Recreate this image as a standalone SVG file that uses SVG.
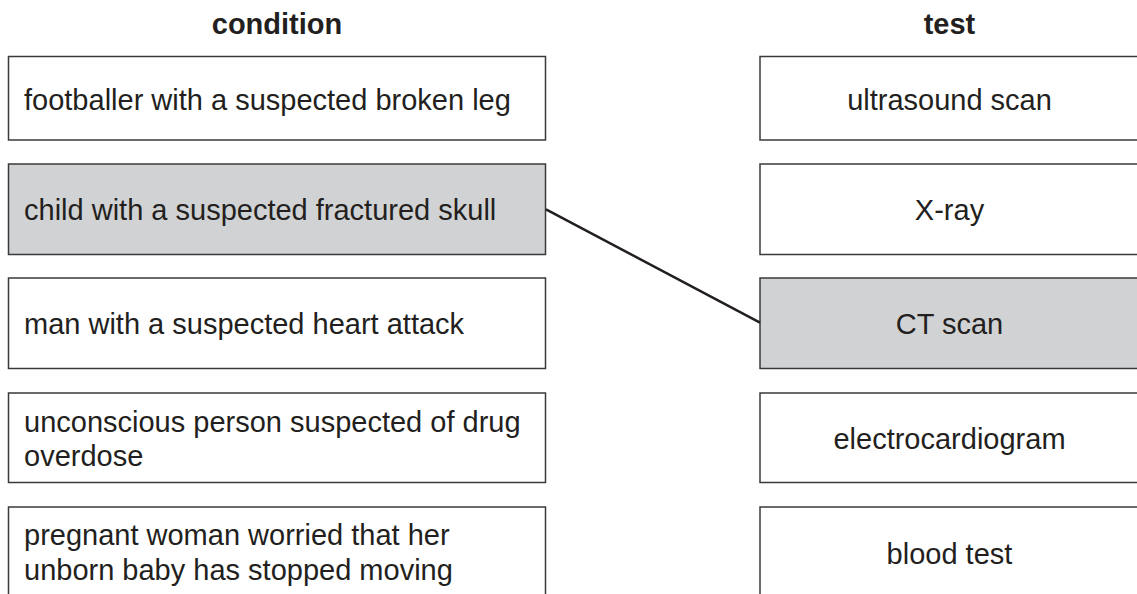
<svg xmlns="http://www.w3.org/2000/svg" width="1137" height="594" viewBox="0 0 1137 594">
<style>
.box{fill:#ffffff;stroke:#3a3a3a;stroke-width:1.5}
.hl{fill:#d1d2d4}
.t{font-family:"Liberation Sans",Arial,sans-serif;font-size:29px;fill:#231f20}
.c{text-anchor:middle}
.h{font-family:"Liberation Sans",Arial,sans-serif;font-size:29px;font-weight:bold;fill:#231f20;text-anchor:middle}
.conn{stroke:#231f20;stroke-width:2.5;fill:none}
</style>
<rect width="1137" height="594" fill="#ffffff"/>
<g id="headers">
<text class="h" x="277" y="34">condition</text>
<text class="h" x="949.5" y="34">test</text>
</g>
<g id="cond1"><rect class="box" x="8.5" y="56.5" width="537" height="83.5"/><text class="t" x="24" y="109.5">footballer with a suspected broken leg</text></g>
<g id="cond2"><rect class="box hl" x="8.5" y="164" width="537" height="90.5"/><text class="t" x="24" y="220">child with a suspected fractured skull</text></g>
<g id="cond3"><rect class="box" x="8.5" y="278" width="537" height="90.5"/><text class="t" x="24" y="333.5">man with a suspected heart attack</text></g>
<g id="cond4"><rect class="box" x="8.5" y="393" width="537" height="89.5"/><text class="t" x="24" y="432">unconscious person suspected of drug</text><text class="t" x="24" y="466">overdose</text></g>
<g id="cond5"><rect class="box" x="8.5" y="507" width="537" height="95"/><text class="t" x="24" y="545">pregnant woman worried that her</text><text class="t" x="24" y="580">unborn baby has stopped moving</text></g>
<g id="test1"><rect class="box" x="760" y="56.5" width="390" height="83.5"/><text class="t c" x="949.5" y="110">ultrasound scan</text></g>
<g id="test2"><rect class="box" x="760" y="164" width="390" height="90.5"/><text class="t c" x="949.5" y="220">X-ray</text></g>
<g id="test3"><rect class="box hl" x="760" y="278" width="390" height="90.5"/><text class="t c" x="949.5" y="334">CT scan</text></g>
<g id="test4"><rect class="box" x="760" y="393" width="390" height="89.5"/><text class="t c" x="949.5" y="448.5">electrocardiogram</text></g>
<g id="test5"><rect class="box" x="760" y="507" width="390" height="95"/><text class="t c" x="949.5" y="563.5">blood test</text></g>
<g id="connectors">
<line class="conn" x1="546" y1="209.3" x2="760" y2="322.7"/>
</g>
</svg>
